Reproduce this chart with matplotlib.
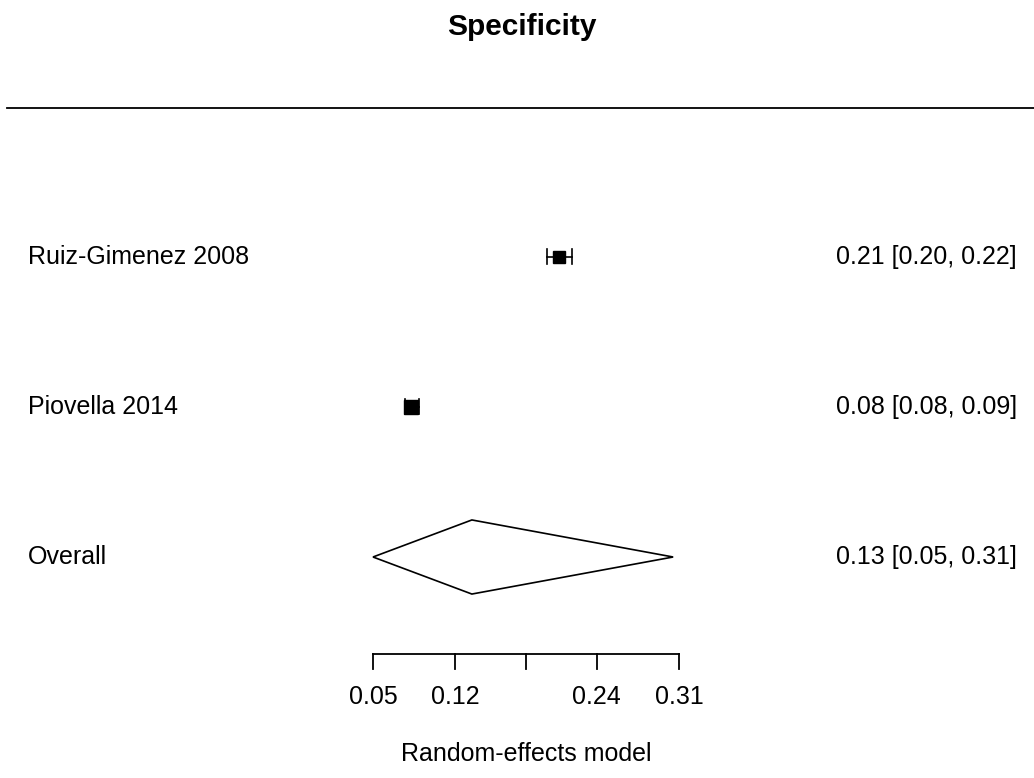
import matplotlib
matplotlib.use("Agg")
import matplotlib.pyplot as plt
from matplotlib.patches import Polygon

plt.rcParams['font.family'] = ['Liberation Sans', 'DejaVu Sans']

# Data
studies = ["Ruiz-Gimenez 2008", "Piovella 2014"]
est = [0.208, 0.082]
ci_lo = [0.198, 0.077]
ci_hi = [0.219, 0.089]
labels_right = ["0.21 [0.20, 0.22]", "0.08 [0.08, 0.09]"]
sq_size = [8.0, 10.0]

overall_label = "Overall"
overall_est = 0.134
overall_lo = 0.050
overall_hi = 0.305
overall_text = "0.13 [0.05, 0.31]"

ticks = [0.05, 0.12, 0.18, 0.24, 0.31]
tick_labels = ["0.05", "0.12", "", "0.24", "0.31"]

title = "Specificity"
xlabel = "Random-effects model"

W, H = 1034, 778
fig = plt.figure(figsize=(W / 100, H / 100), dpi=100)
ax = fig.add_axes([0, 0, 1, 1])
ax.set_axis_off()

# pixel-to-data mapping
scale = 1177.0
x0p = 373.0
xlim = (0.05 - x0p / scale, 0.05 + (W - x0p) / scale)
ax.set_xlim(*xlim)
row_px = 150.0
ylim = (3 - (H - 257) / row_px, 3 + 257 / row_px)
ax.set_ylim(*ylim)

def px2x(px):
    return 0.05 + (px - x0p) / scale

rows = [3, 2]
fs = 18

for r, name, e, lo, hi, lab, s in zip(rows, studies, est, ci_lo, ci_hi, labels_right, sq_size):
    ax.plot([lo, hi], [r, r], color='black', lw=1.2)
    cap = 0.05
    ax.plot([lo, lo], [r - cap, r + cap], color='black', lw=1.2)
    ax.plot([hi, hi], [r - cap, r + cap], color='black', lw=1.2)
    ax.plot([e], [r], marker='s', color='black', markersize=s, linestyle='none')
    ax.text(px2x(28), r, name, ha='left', va='center', fontsize=fs)
    ax.text(px2x(1017), r, lab, ha='right', va='center', fontsize=fs)

# overall diamond
ro = 1
dh = 0.247
diamond = Polygon([[overall_lo, ro], [overall_est, ro + dh], [overall_hi, ro], [overall_est, ro - dh]],
                  closed=True, facecolor='white', edgecolor='black', lw=1.2)
ax.add_patch(diamond)
ax.text(px2x(28), ro, overall_label, ha='left', va='center', fontsize=fs)
ax.text(px2x(1017), ro, overall_text, ha='right', va='center', fontsize=fs)

# top separator line
y_top = 3 + (257 - 108) / row_px
ax.plot([px2x(7), xlim[1]], [y_top, y_top], color='black', lw=1.3)

# x axis
y_ax = 3 - (654 - 257) / row_px
tick_len = 15 / row_px
ax.plot([ticks[0], ticks[-1]], [y_ax, y_ax], color='black', lw=1.3)
for t, tl in zip(ticks, tick_labels):
    ax.plot([t, t], [y_ax, y_ax - tick_len], color='black', lw=1.3)
    if tl:
        ax.text(t, 3 - (697 - 257) / row_px, tl, ha='center', va='center', fontsize=fs)

ax.text(px2x(526), 3 - (754 - 257) / row_px, xlabel, ha='center', va='center', fontsize=fs)

fig.text(px2x(522) and 522 / W, 1 - 27 / H, title, ha='center', va='center', fontsize=21.5, fontweight='bold')

fig.savefig("out.png", dpi=100, facecolor='white')
